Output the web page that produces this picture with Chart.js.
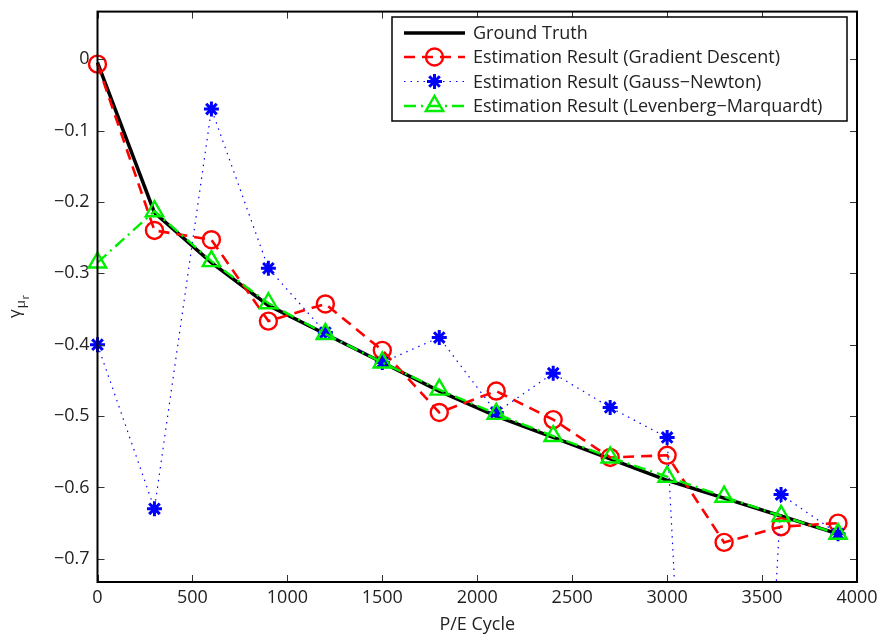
<!DOCTYPE html>
<html>
<head>
<meta charset="utf-8">
<script src="https://cdn.jsdelivr.net/npm/chart.js@4.4.1/dist/chart.umd.min.js"></script>
<style>
html,body{margin:0;padding:0;background:#fff;}
#wrap{width:878px;height:636px;position:relative;}
</style>
</head>
<body>
<div id="wrap"><canvas id="c" width="878" height="636"></canvas></div>
<script>
const cycles = [0, 300, 600, 900, 1200, 1500, 1800, 2100, 2400, 2700, 3000, 3300, 3600, 3900];
const groundTruth = [-0.005, -0.215, -0.285, -0.345, -0.385, -0.425, -0.465, -0.5, -0.53, -0.56, -0.59, -0.615, -0.64, -0.665];
const gradientDescent = [-0.007, -0.24, -0.253, -0.367, -0.343, -0.408, -0.495, -0.465, -0.505, -0.558, -0.555, -0.677, -0.655, -0.65];
const gaussNewton = [-0.4, -0.63, -0.07, -0.293, -0.383, -0.425, -0.39, -0.495, -0.44, -0.488, -0.53, -2.1, -0.61, -0.665];
const levenbergMarquardt = [-0.285, -0.213, -0.283, -0.342, -0.385, -0.425, -0.463, -0.497, -0.528, -0.558, -0.585, -0.613, -0.64, -0.665];
const xTicks = [0, 500, 1000, 1500, 2000, 2500, 3000, 3500, 4000];
const yTicks = [0, -0.1, -0.2, -0.3, -0.4, -0.5, -0.6, -0.7];
const seriesNames = ['Ground Truth', 'Estimation Result (Gradient Descent)', 'Estimation Result (Gauss\u2212Newton)', 'Estimation Result (Levenberg\u2212Marquardt)'];

const FONT = '"Open Sans", sans-serif';
const FS = 18;
const pts = arr => cycles.map((c, i) => ({x: c, y: arr[i]}));
const clipOpt = {left: 20, top: 20, right: 20, bottom: 0};

const styles = [
  {color: '#000000', width: 3.5, dash: [], point: false, radius: 0, pw: 0},
  {color: '#ff0000', width: 2.6, dash: [11, 7], point: 'circle', radius: 8.5, pw: 2.4},
  {color: '#0000ff', width: 1.2, dash: [1.5, 5], point: 'star', radius: 7.5, pw: 3},
  {color: '#00ee00', width: 2.4, dash: [12, 5, 2, 5], point: 'triangle', radius: 10, pw: 2.4}
];
const seriesData = [groundTruth, gradientDescent, gaussNewton, levenbergMarquardt];

const datasets = seriesData.map((arr, i) => ({
  label: seriesNames[i],
  data: pts(arr),
  borderColor: styles[i].color,
  backgroundColor: 'rgba(0,0,0,0)',
  borderWidth: styles[i].width,
  borderDash: styles[i].dash,
  pointStyle: styles[i].point || 'circle',
  pointRadius: styles[i].radius,
  pointHoverRadius: styles[i].radius,
  pointBorderWidth: styles[i].pw,
  pointBorderColor: styles[i].color,
  pointBackgroundColor: 'rgba(0,0,0,0)',
  tension: 0,
  fill: false,
  clip: clipOpt,
  order: 4 - i
}));

const boxPlugin = {
  id: 'boxPlugin',
  afterDatasetsDraw(chart) {
    const {ctx, chartArea: a, scales: {x, y}} = chart;
    ctx.save();
    ctx.strokeStyle = '#333';
    ctx.lineWidth = 1;
    const tl = 7;
    ctx.beginPath();
    xTicks.forEach(v => {
      const px = Math.round(x.getPixelForValue(v)) + 0.5;
      ctx.moveTo(px, a.bottom); ctx.lineTo(px, a.bottom - tl);
      ctx.moveTo(px, a.top); ctx.lineTo(px, a.top + tl);
    });
    yTicks.forEach(v => {
      const py = Math.round(y.getPixelForValue(v)) + 0.5;
      ctx.moveTo(a.left, py); ctx.lineTo(a.left + tl, py);
      ctx.moveTo(a.right, py); ctx.lineTo(a.right - tl, py);
    });
    ctx.stroke();
    ctx.strokeStyle = '#000';
    ctx.lineWidth = 2;
    ctx.strokeRect(a.left, a.top, a.right - a.left, a.bottom - a.top);
    ctx.restore();
  },
  afterDraw(chart) {
    const {ctx} = chart;
    ctx.save();
    // legend
    const lx = 392, ly = 17, lw = 455, lh = 104;
    ctx.fillStyle = '#fff';
    ctx.fillRect(lx, ly, lw, lh);
    ctx.strokeStyle = '#000';
    ctx.lineWidth = 1.5;
    ctx.strokeRect(lx, ly, lw, lh);
    const rows = [33, 57, 81.5, 106];
    ctx.font = FS + 'px ' + FONT;
    ctx.textBaseline = 'middle';
    rows.forEach((ry, i) => {
      const s = styles[i];
      ctx.save();
      ctx.strokeStyle = s.color;
      ctx.lineWidth = s.width;
      ctx.setLineDash(s.dash);
      ctx.beginPath();
      ctx.moveTo(404, ry); ctx.lineTo(465, ry);
      ctx.stroke();
      ctx.setLineDash([]);
      if (s.point) {
        ctx.lineWidth = s.pw;
        ctx.fillStyle = 'rgba(0,0,0,0)';
        ctx.strokeStyle = s.color;
        Chart.helpers.drawPoint(ctx, {pointStyle: s.point, radius: s.radius, borderWidth: s.pw}, 434.5, ry);
      }
      ctx.restore();
      ctx.fillStyle = '#222';
      ctx.fillText(seriesNames[i], 473, ry + 1);
    });
    // y-axis title: gamma_{mu_r}
    ctx.translate(20, 318);
    ctx.rotate(-Math.PI / 2);
    ctx.fillStyle = '#222';
    ctx.textBaseline = 'alphabetic';
    ctx.font = '17px ' + FONT;
    ctx.fillText('\u03b3', 0, 0);
    let w = ctx.measureText('\u03b3').width;
    ctx.font = '13px ' + FONT;
    ctx.fillText('\u03bc', w + 1, 5);
    let w2 = ctx.measureText('\u03bc').width;
    ctx.font = '10px ' + FONT;
    ctx.fillText('r', w + 1 + w2 + 1, 9);
    ctx.restore();
  }
};

new Chart(document.getElementById('c'), {
  type: 'line',
  data: {datasets},
  options: {
    responsive: false,
    animation: false,
    devicePixelRatio: 1,
    layout: {autoPadding: false, padding: {left: 0, top: 6, right: 21, bottom: 0}},
    plugins: {legend: {display: false}, tooltip: {enabled: false}},
    scales: {
      x: {
        type: 'linear', min: 0, max: 4000,
        afterBuildTicks: s => { s.ticks = xTicks.map(v => ({value: v})); },
        afterFit: s => { s.height = 54; s.paddingRight = 0; s.paddingLeft = 0; },
        grid: {display: false, drawTicks: false},
        border: {display: false},
        ticks: {color: '#222', font: {family: FONT, size: FS}, padding: 5, maxRotation: 0,
                callback: v => String(v)},
        title: {display: true, text: 'P/E Cycle', color: '#222', font: {family: FONT, size: FS}, padding: {top: 0, bottom: 0}}
      },
      y: {
        type: 'linear', min: -0.7325, max: 0.0666,
        afterBuildTicks: s => { s.ticks = yTicks.map(v => ({value: v})); },
        afterFit: s => { s.width = 97.5; },
        grid: {display: false, drawTicks: false},
        border: {display: false},
        ticks: {color: '#222', font: {family: FONT, size: FS, lineHeight: 0.4}, padding: 8,
                callback: v => (Math.abs(v) < 1e-9 ? '0' : '\u2212' + Math.abs(v).toFixed(1))}
      }
    }
  },
  plugins: [boxPlugin]
});
</script>
</body>
</html>
